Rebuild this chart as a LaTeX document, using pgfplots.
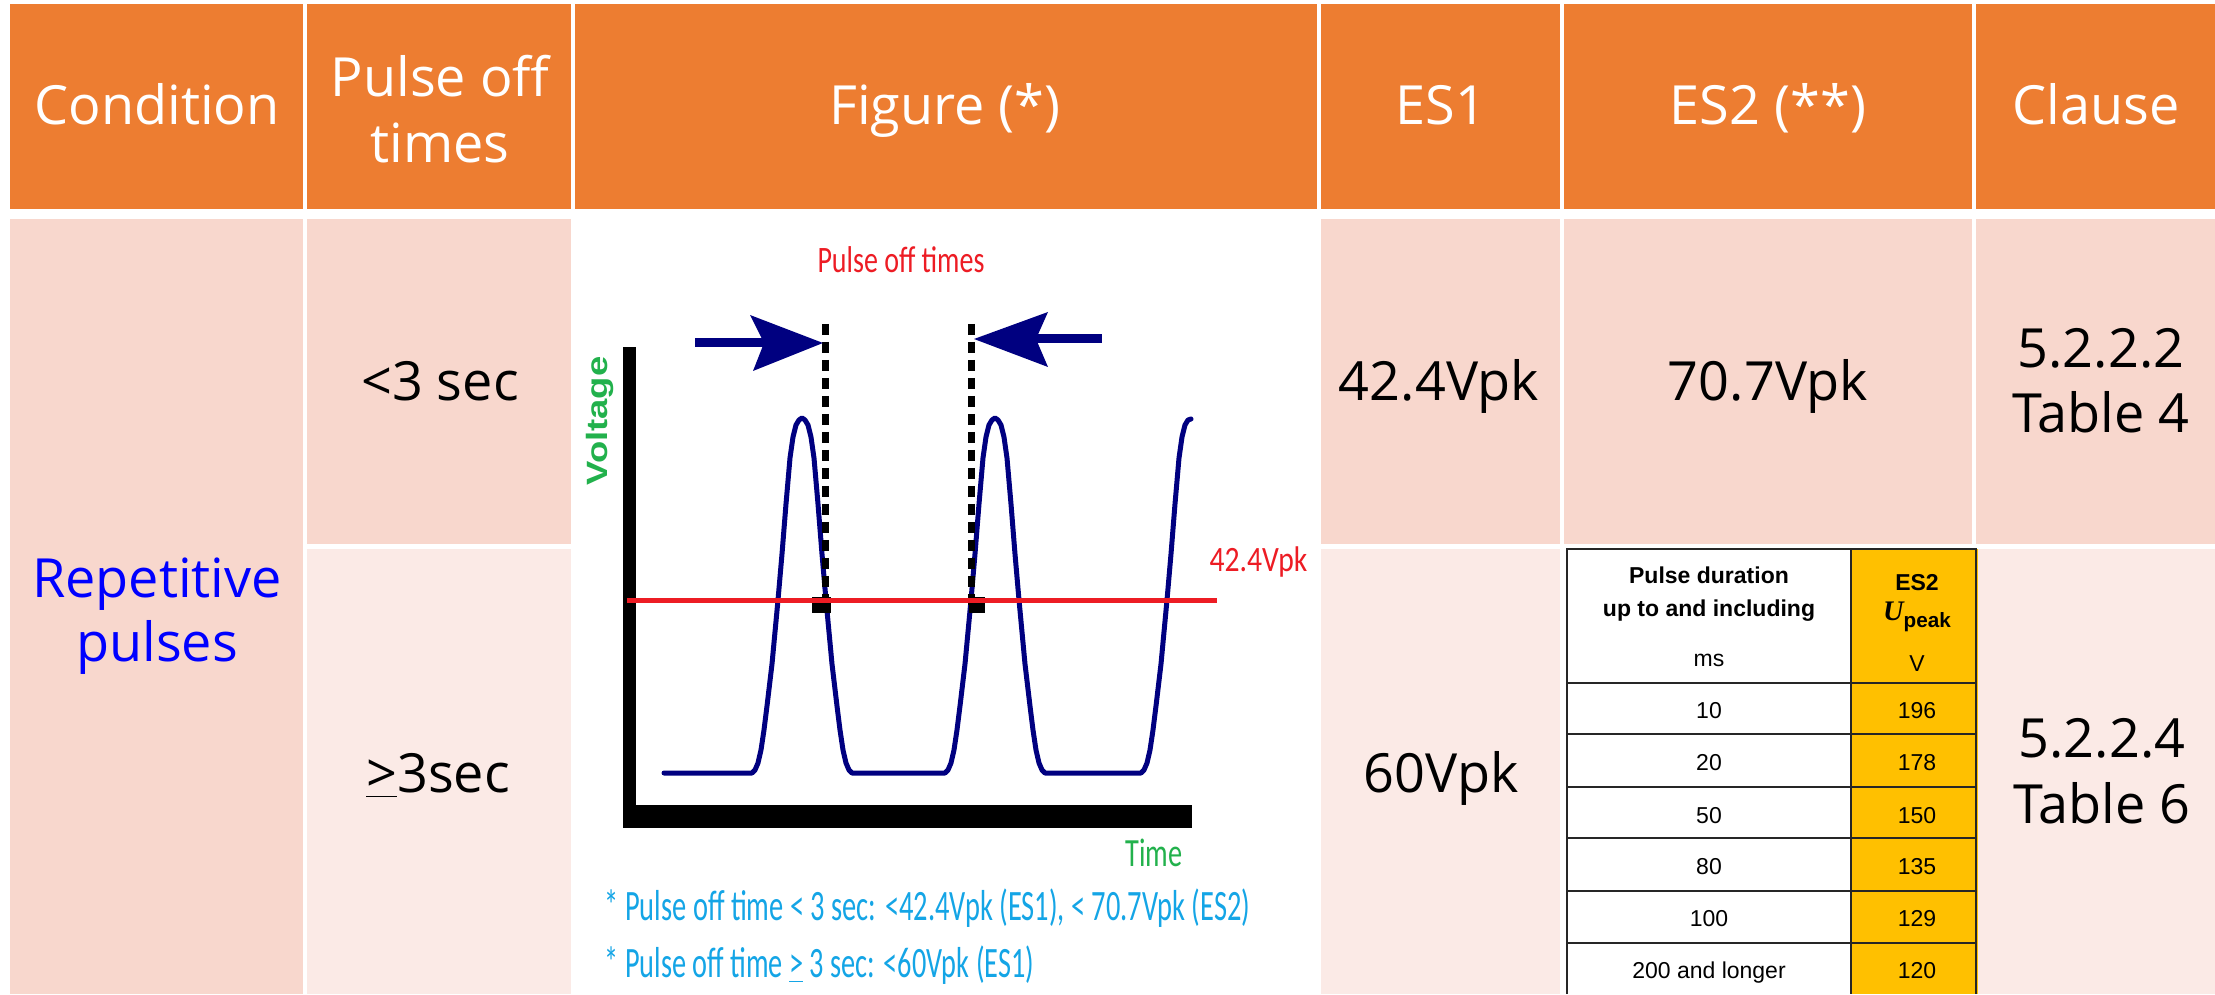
\documentclass[border=0pt]{standalone}
\usepackage{fontspec}
\setmainfont{Open Sans}
\newfontfamily\figfont{Carlito}
\newfontfamily\arialfont{Liberation Sans}
\newfontfamily\serifit{Liberation Serif}
\usepackage{graphicx}
\usepackage{pgfplots}
\pgfplotsset{compat=1.18}
\definecolor{hdr}{HTML}{ED7D31}
\definecolor{pinkA}{HTML}{F8D7CD}
\definecolor{pinkB}{HTML}{FBEAE6}
\definecolor{navyc}{HTML}{000080}
\definecolor{redf}{HTML}{ED1C24}
\definecolor{greenf}{HTML}{22B14C}
\definecolor{capblue}{HTML}{14A5E6}
\definecolor{yel}{HTML}{FFC000}
\definecolor{bluet}{HTML}{0000FF}
\newcommand\mainsz{\fontsize{16.2pt}{19pt}\selectfont}
\newcommand\tabsz{\arialfont\fontsize{6.9pt}{8pt}\selectfont}
\begin{document}
\begin{tikzpicture}
\begin{axis}[width=664.5pt,height=298.2pt,scale only axis,
  xmin=0,xmax=2215,ymin=0,ymax=994,y dir=reverse,hide axis,clip=false]
% background
\fill[white] (0,0) rectangle (2215,994);
% header
\fill[hdr] (10,4) rectangle (303,209);
\fill[hdr] (307,4) rectangle (571,209);
\fill[hdr] (575,4) rectangle (1317,209);
\fill[hdr] (1321,4) rectangle (1560,209);
\fill[hdr] (1564,4) rectangle (1972,209);
\fill[hdr] (1976,4) rectangle (2215,209);
% merged condition cell
\fill[pinkA] (10,219) rectangle (303,994);
% row 1
\fill[pinkA] (307,219) rectangle (571,544);
\fill[pinkA] (1321,219) rectangle (1560,544);
\fill[pinkA] (1564,219) rectangle (1972,544);
\fill[pinkA] (1976,219) rectangle (2215,544);
% row 2
\fill[pinkB] (307,549) rectangle (571,994);
\fill[pinkB] (1321,549) rectangle (1560,994);
\fill[pinkB] (1978,549) rectangle (2215,994);
% ES2 table image
\fill[white] (1566,549) rectangle (1851,994);
\fill[yel] (1851,549) rectangle (1978,994);
\draw[black!85,line width=0.45pt] (1567,994) -- (1567,549) -- (1976,549) -- (1976,994);
\draw[black!85,line width=0.45pt] (1851,549) -- (1851,994);
\draw[black!85,line width=0.45pt] (1567,683) -- (1976,683);
\draw[black!85,line width=0.45pt] (1567,734) -- (1976,734);
\draw[black!85,line width=0.45pt] (1567,787) -- (1976,787);
\draw[black!85,line width=0.45pt] (1567,838) -- (1976,838);
\draw[black!85,line width=0.45pt] (1567,891) -- (1976,891);
\draw[black!85,line width=0.45pt] (1567,943) -- (1976,943);
% header texts
\node[anchor=base,text=white,font=\mainsz] at (157,125) {Condition};
\node[anchor=base,text=white,font=\mainsz] at (440,97) {Pulse off};
\node[anchor=base,text=white,font=\mainsz] at (440,163) {times};
\node[anchor=base,text=white,font=\mainsz] at (945,125) {Figure (*)};
\node[anchor=base,text=white,font=\mainsz] at (1441,125) {ES1};
\node[anchor=base,text=white,font=\mainsz] at (1768,125) {ES2 (**)};
\node[anchor=base,text=white,font=\mainsz] at (2096,125) {Clause};
% body texts
\node[anchor=base,text=bluet,font=\mainsz] at (157,597) {Repetitive};
\node[anchor=base,text=bluet,font=\mainsz] at (157,661) {pulses};
\node[anchor=base,font=\mainsz] at (440,401) {<3 sec};
\node[anchor=base,font=\mainsz] at (1439,401) {42.4Vpk};
\node[anchor=base,font=\mainsz] at (1768,401) {70.7Vpk};
\node[anchor=base,font=\mainsz] at (2101,368) {5.2.2.2};
\node[anchor=base,font=\mainsz] at (2101,433) {Table 4};
\node[anchor=base,font=\mainsz] at (438,792) {\underline{>}3sec};
\node[anchor=base,font=\mainsz] at (1441,792) {60Vpk};
\node[anchor=base,font=\mainsz] at (2102,757) {5.2.2.4};
\node[anchor=base,font=\mainsz] at (2102,823) {Table 6};
% ES2 table texts
\node[anchor=base,font=\tabsz\bfseries] at (1709,584) {Pulse duration};
\node[anchor=base,font=\tabsz\bfseries] at (1709,616) {up to and including};
\node[anchor=base,font=\tabsz] at (1709,666) {ms};
\node[anchor=base,font=\tabsz\bfseries] at (1917,590) {ES2};
\node[anchor=base,inner sep=0pt] at (1917,620) {{\serifit\fontsize{8.5pt}{9pt}\selectfont\bfseries\itshape U}\raisebox{-2.2pt}{\arialfont\fontsize{6.2pt}{7pt}\selectfont\bfseries peak}};
\node[anchor=base,font=\tabsz] at (1917,671) {V};
\node[anchor=base,font=\tabsz] at (1709,718) {10};
\node[anchor=base,font=\tabsz] at (1709,770) {20};
\node[anchor=base,font=\tabsz] at (1709,823) {50};
\node[anchor=base,font=\tabsz] at (1709,874) {80};
\node[anchor=base,font=\tabsz] at (1709,926) {100};
\node[anchor=base,font=\tabsz] at (1709,978) {200 and longer};
\node[anchor=base,font=\tabsz] at (1917,718) {196};
\node[anchor=base,font=\tabsz] at (1917,770) {178};
\node[anchor=base,font=\tabsz] at (1917,823) {150};
\node[anchor=base,font=\tabsz] at (1917,874) {135};
\node[anchor=base,font=\tabsz] at (1917,926) {129};
\node[anchor=base,font=\tabsz] at (1917,978) {120};
% figure: white panel
\fill[white] (573,209) rectangle (1319,994);
% axes of the sketch
\fill[black] (623,347) rectangle (636,828);
\fill[black] (623,805) rectangle (1192,828);
% pulse train
\addplot[navyc,line width=1.5pt,line join=round,line cap=round] coordinates {
(664,773) (752,773) (755,770) (758,763) (761,750) (764,730) (767,706) (772,664) (778,600) (782,554) (786,504) (790,458) (793,437) (796,425) (799,420) (802,418)
(805,420) (808,425) (811,437) (814,458) (818,504) (822,554) (826,600) (832,664) (837,706) (840,730) (843,750) (846,763) (849,770) (852,773)
(945,773) (948,770) (951,763) (954,750) (957,730) (960,706) (965,664) (971,600) (975,554) (979,504) (983,458) (986,437) (989,425) (992,420) (995,418)
(998,420) (1001,425) (1004,437) (1007,458) (1011,504) (1015,554) (1019,600) (1025,664) (1030,706) (1033,730) (1036,750) (1039,763) (1042,770) (1045,773)
(1141,773) (1144,770) (1147,763) (1150,750) (1153,730) (1156,706) (1161,664) (1167,600) (1171,554) (1175,504) (1179,458) (1182,437) (1185,425) (1188,420) (1191,419)
};
% dashed markers
\addplot[black,line width=2.1pt,dash pattern=on 3.3pt off 2.1pt] coordinates {(825,324) (825,605)};
\addplot[black,line width=2.1pt,dash pattern=on 3.3pt off 2.1pt] coordinates {(971,324) (971,605)};
\fill[black] (812,597) rectangle (831,613);
\fill[black] (969,597) rectangle (985,613);
% threshold line
\addplot[redf,line width=1.5pt] coordinates {(627,600) (1217,600)};
% arrows
\fill[navyc] (695,338.5) rectangle (765,347.5);
\fill[navyc] (823,343) -- (750,315) -- (764,343) -- (753,371) -- cycle;
\fill[navyc] (1032,334.5) rectangle (1102,343.5);
\fill[navyc] (974,339) -- (1048,312) -- (1036,339) -- (1048,367) -- cycle;
% figure texts
\node[anchor=base,text=redf,inner sep=0pt] at (901,273) {\resizebox{50.1pt}{\height}{\figfont\fontsize{11.2pt}{12pt}\selectfont Pulse off times}};
\node[anchor=base west,text=redf,inner sep=0pt] at (1209,572) {\resizebox{29.3pt}{\height}{\figfont\fontsize{10.7pt}{12pt}\selectfont 42.4Vpk}};
\node[anchor=base,rotate=90,text=greenf,inner sep=0pt] at (607,421) {\resizebox{38.7pt}{\height}{\arialfont\fontsize{8.8pt}{10pt}\selectfont\bfseries Voltage}};
\node[anchor=base west,text=greenf,inner sep=0pt] at (1125,866) {\resizebox{17.1pt}{\height}{\figfont\fontsize{12pt}{13pt}\selectfont Time}};
\node[anchor=base west,text=capblue,inner sep=0pt] at (604,920) {\resizebox{193.7pt}{\height}{\figfont\fontsize{13pt}{14pt}\selectfont * Pulse off time < 3 sec: <42.4Vpk (ES1), < 70.7Vpk (ES2)}};
\node[anchor=base west,text=capblue,inner sep=0pt] at (604,977) {\resizebox{128.8pt}{\height}{\figfont\fontsize{13pt}{14pt}\selectfont * Pulse off time \underline{>} 3 sec: <60Vpk (ES1)}};
\end{axis}
\end{tikzpicture}
\end{document}
